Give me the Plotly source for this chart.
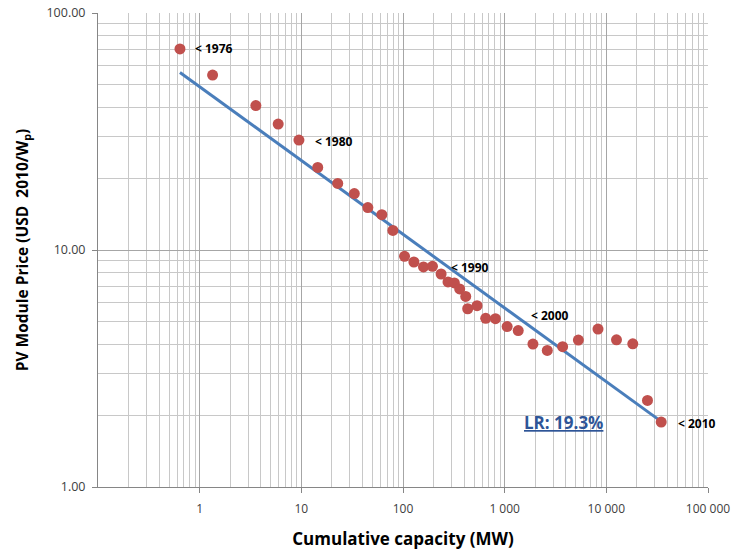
import math
import plotly.graph_objects as go

# Cumulative capacity (MW) and PV module price (USD 2010/Wp)
capacity_mw = [0.64, 1.34, 3.57, 5.92, 9.47, 14.5, 22.8, 33.2, 45.1, 61.9, 79.5,
               103.5, 128, 159, 195, 237, 277, 320, 361, 414, 433, 535, 651, 812,
               1058, 1359, 1897, 2625, 3716, 5309, 8280, 12590, 18200, 25400, 34650]
price_usd = [70.5, 54.7, 40.7, 34.0, 29.1, 22.3, 19.1, 17.3, 15.1, 14.1, 12.1,
             9.40, 8.90, 8.48, 8.53, 7.92, 7.33, 7.26, 6.85, 6.37, 5.65, 5.82, 5.15, 5.13,
             4.75, 4.57, 4.01, 3.77, 3.91, 4.17, 4.64, 4.18, 4.02, 2.32, 1.88]

# Experience-curve trend line end points
trend_x = [0.64, 33500]
trend_y = [56.1, 1.91]

# Year labels (text start position)
label_years = ["< 1976", "< 1980", "< 1990", "< 2000", "< 2010"]
label_x = [0.853, 13.0, 285, 1718, 48300]
label_y = [70.5, 28.6, 8.42, 5.28, 1.85]

x_tickvals = [1, 10, 100, 1000, 10000, 100000]
x_ticktext = ["1", "10", "100", "1 000", "10 000", "100 000"]
y_tickvals = [1, 10, 100]
y_ticktext = ["1.00", "10.00", "100.00"]

lr_text = "LR: 19.3%"
lr_x, lr_y = 3800, 1.87

x_minor = [m * 10 ** e for e in range(-1, 5) for m in range(2, 10)]
y_minor = [m * 10 ** e for e in range(0, 2) for m in range(2, 10)]

fig = go.Figure()
fig.add_trace(go.Scatter(x=trend_x, y=trend_y, mode="lines",
                         line=dict(color="#4A7EBB", width=3), showlegend=False))
fig.add_trace(go.Scatter(x=capacity_mw, y=price_usd, mode="markers",
                         marker=dict(color="#C0504D", size=11), showlegend=False))

for t, lx, ly in zip(label_years, label_x, label_y):
    fig.add_annotation(x=math.log10(lx), y=math.log10(ly), xref="x", yref="y",
                       text="<b>" + t + "</b>", showarrow=False,
                       xanchor="left", yanchor="middle",
                       font=dict(family="Open Sans", size=12, color="#000000"))

fig.add_annotation(x=math.log10(lr_x), y=math.log10(lr_y), xref="x", yref="y",
                   text="<b><u>" + lr_text + "</u></b>",
                   showarrow=False, xanchor="center", yanchor="middle",
                   font=dict(family="Open Sans", size=17, color="#2E5597"))

fig.update_layout(
    width=731, height=556,
    margin=dict(l=98, r=23, t=13, b=69, autoexpand=False),
    plot_bgcolor="white", paper_bgcolor="white",
    font=dict(family="Open Sans", color="#404040"),
)
fig.update_xaxes(
    type="log", range=[-1, 5], automargin=False,
    tickvals=x_tickvals, ticktext=x_ticktext,
    tickfont=dict(size=12, color="#404040"),
    ticks="outside", ticklen=5, tickcolor="#868686",
    ticklabelstandoff=6,
    showgrid=True, gridcolor="#A6A6A6", gridwidth=1,
    minor=dict(tickvals=x_minor, showgrid=True, gridcolor="#C8C8C8", gridwidth=1, ticks=""),
    showline=True, linecolor="#868686", linewidth=1, mirror=False,
    zeroline=False,
    title=dict(text="<b>Cumulative capacity (MW)</b>", font=dict(size=17, color="#000000"), standoff=16),
)
fig.update_yaxes(
    type="log", range=[0, 2], automargin=False,
    tickvals=y_tickvals, ticktext=y_ticktext,
    tickfont=dict(size=12.5, color="#404040"),
    ticks="outside", ticklen=5, tickcolor="#868686",
    ticklabelstandoff=4,
    showgrid=True, gridcolor="#A6A6A6", gridwidth=1,
    minor=dict(tickvals=y_minor, showgrid=True, gridcolor="#C8C8C8", gridwidth=1, ticks=""),
    showline=True, linecolor="#868686", linewidth=1,
    zeroline=False,
    title=dict(text="<b>PV Module Price (USD  2010/W<sub>p</sub>)</b>", font=dict(size=15.5, color="#000000"), standoff=14),
)

fig.write_html("out.html", config={"displayModeBar": False},
               post_script="document.body.style.margin='0';")
